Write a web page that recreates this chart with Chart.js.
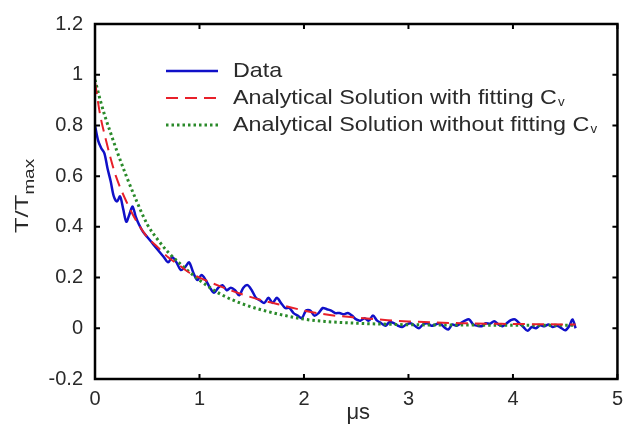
<!DOCTYPE html>
<html>
<head>
<meta charset="utf-8">
<script src="https://cdn.jsdelivr.net/npm/chart.js@4/dist/chart.umd.min.js"></script>
<style>
  html, body { margin: 0; padding: 0; background: #fff; }
  #wrap { width: 631px; height: 430px; }
</style>
</head>
<body>
<div id="wrap"><canvas id="myChart" width="631" height="430"></canvas></div>
<script>
// measured trace (blue)
var dataX = [0.00,0.03,0.06,0.09,0.12,0.15,0.18,0.21,0.24,0.27,0.30,0.33,0.36,0.39,0.42,0.46,0.50,0.54,0.58,0.62,
  0.66,0.70,0.74,0.78,0.82,0.86,0.90,0.94,0.98,1.02,1.06,1.10,1.14,1.18,1.22,1.26,1.30,1.34,1.38,1.42,
  1.46,1.50,1.54,1.58,1.62,1.66,1.70,1.74,1.78,1.82,1.86,1.90,1.94,1.98,2.02,2.06,2.10,2.14,2.18,2.22,
  2.26,2.30,2.34,2.38,2.42,2.46,2.50,2.54,2.58,2.62,2.66,2.70,2.74,2.78,2.82,2.86,2.90,2.94,2.98,3.02,
  3.06,3.10,3.14,3.18,3.22,3.26,3.30,3.34,3.38,3.42,3.46,3.50,3.54,3.58,3.62,3.66,3.70,3.74,3.78,3.82,
  3.86,3.90,3.94,3.98,4.02,4.06,4.10,4.14,4.18,4.22,4.26,4.30,4.34,4.38,4.42,4.46,4.50,4.54,4.57,4.60]
var dataY = [0.80,0.74,0.71,0.69,0.63,0.58,0.52,0.50,0.52,0.47,0.42,0.45,0.48,0.44,0.41,0.38,0.36,0.34,0.32,0.30,
  0.28,0.26,0.28,0.26,0.23,0.24,0.26,0.22,0.19,0.21,0.19,0.16,0.14,0.16,0.17,0.15,0.16,0.15,0.13,0.16,
  0.17,0.15,0.12,0.11,0.10,0.12,0.10,0.12,0.10,0.08,0.08,0.06,0.05,0.04,0.07,0.07,0.05,0.06,0.08,0.075,
  0.07,0.06,0.06,0.055,0.06,0.05,0.035,0.03,0.04,0.03,0.05,0.03,0.02,0.01,0.025,0.02,0.01,0.005,0.015,0.02,
  0.01,0.0,0.015,0.02,0.01,0.015,0.02,0.005,-0.005,0.015,0.01,0.02,0.03,0.035,0.015,0.01,0.008,0.02,0.018,0.028,
  0.015,0.008,0.02,0.032,0.035,0.02,0.005,-0.01,0.005,0.0,0.012,0.008,0.015,0.005,0.01,0.002,-0.008,0.01,0.035,0.0]

// analytical with fitting Cv (red dashed)
var fitX = [0,0.05,0.1,0.15,0.2,0.3,0.4,0.5,0.6,0.7,0.8,0.9,1.0,1.2,1.4,1.6,1.8,2.0,2.2,2.5,2.8,3.0,3.5,4.0,4.6]
var fitY = [0.97,0.84,0.75,0.67,0.60,0.50,0.42,0.36,0.32,0.28,0.25,0.22,0.20,0.165,0.135,0.11,0.09,0.07,0.055,0.042,0.032,0.027,0.02,0.017,0.015]

// analytical without fitting Cv (green dotted)
var noFitX = [0,0.05,0.1,0.15,0.2,0.3,0.4,0.5,0.6,0.7,0.8,1.0,1.2,1.4,1.6,1.8,2.0,2.2,2.5,2.8,3.0,3.5,4.0,4.6]
var noFitY = [0.98,0.90,0.83,0.77,0.71,0.60,0.50,0.41,0.35,0.30,0.26,0.19,0.135,0.098,0.072,0.052,0.036,0.027,0.02,0.016,0.014,0.013,0.012,0.012]

var seriesLabels = ['Data', 'Analytical Solution with fitting C', 'Analytical Solution without fitting C']
var xTicks = [0, 1, 2, 3, 4, 5]
var yTicks = [-0.2, 0, 0.2, 0.4, 0.6, 0.8, 1, 1.2]

function toPoints(xs, ys) {
  return xs.map((x, i) => ({x: x, y: ys[i]}))
}

var FONT = '"Liberation Sans", Arial, sans-serif'
var TXT = '#2a2a2a'

// box, inward ticks, axis titles, legend drawn inside the plot
const framePlugin = {
  id: 'frame',
  afterDraw(chart) {
    const ctx = chart.ctx
    const a = chart.chartArea
    const xs = chart.scales.x, ys = chart.scales.y
    ctx.save()
    ctx.strokeStyle = '#000'
    ctx.lineWidth = 2.5
    ctx.strokeRect(a.left, a.top, a.right - a.left, a.bottom - a.top)
    ctx.lineWidth = 2
    ctx.beginPath()
    xTicks.forEach(v => {
      let p = xs.getPixelForValue(v)
      ctx.moveTo(p, a.bottom); ctx.lineTo(p, a.bottom - 5)
      ctx.moveTo(p, a.top); ctx.lineTo(p, a.top + 5)
    })
    yTicks.forEach(v => {
      let p = ys.getPixelForValue(v)
      ctx.moveTo(a.left, p); ctx.lineTo(a.left + 5, p)
      ctx.moveTo(a.right, p); ctx.lineTo(a.right - 5, p)
    })
    ctx.stroke()

    // x title
    ctx.fillStyle = TXT
    ctx.font = '22px ' + FONT
    ctx.textAlign = 'center'
    ctx.textBaseline = 'middle'
    ctx.fillText('\u03bcs', (a.left + a.right) / 2 + 2, 413)

    // y title with subscript
    ctx.save()
    ctx.translate(28, 196)
    ctx.rotate(-Math.PI / 2)
    ctx.scale(1.35, 1)
    ctx.textAlign = 'left'
    ctx.textBaseline = 'alphabetic'
    ctx.font = '19px ' + FONT
    let w1 = ctx.measureText('T/T').width
    ctx.font = '14px ' + FONT
    let w2 = ctx.measureText('max').width
    let start = -(w1 + w2) / 2
    ctx.font = '19px ' + FONT
    ctx.fillText('T/T', start, 0)
    ctx.font = '14px ' + FONT
    ctx.fillText('max', start + w1, 6)
    ctx.restore()

    // legend
    const rows = [71, 98, 125]
    chart.data.datasets.forEach((ds, i) => {
      let y = rows[i]
      ctx.save()
      ctx.strokeStyle = ds.borderColor
      ctx.lineWidth = ds.borderWidth
      ctx.setLineDash(ds.borderDash || [])
      ctx.beginPath()
      ctx.moveTo(166, y); ctx.lineTo(218, y)
      ctx.stroke()
      ctx.restore()
      ctx.save()
      ctx.translate(233, y)
      ctx.scale(1.11, 1)
      ctx.fillStyle = TXT
      ctx.textAlign = 'left'
      ctx.textBaseline = 'middle'
      ctx.font = '21px ' + FONT
      ctx.fillText(ds.label, 0, 0)
      if (i > 0) {
        let w = ctx.measureText(ds.label).width
        ctx.font = '12px ' + FONT
        ctx.fillText('v', w + 1, 5)
      }
      ctx.restore()
    })
    ctx.restore()
  }
}

new Chart('myChart', {
  type: 'scatter',
  data: {
    datasets: [{
      label: seriesLabels[0],
      data: toPoints(dataX, dataY),
      showLine: true,
      borderColor: '#1010c8',
      borderWidth: 2.5,
      pointRadius: 0,
      tension: 0.3,
      order: 3
    }, {
      label: seriesLabels[1],
      data: toPoints(fitX, fitY),
      showLine: true,
      borderColor: '#e8202a',
      borderWidth: 2,
      borderDash: [12, 7],
      pointRadius: 0,
      cubicInterpolationMode: 'monotone',
      order: 1
    }, {
      label: seriesLabels[2],
      data: toPoints(noFitX, noFitY),
      showLine: true,
      borderColor: '#2a8a2a',
      borderWidth: 3,
      borderDash: [2.5, 3],
      pointRadius: 0,
      cubicInterpolationMode: 'monotone',
      order: 2
    }]
  },
  options: {
    responsive: false,
    animation: false,
    layout: { padding: { top: 15, right: 6, left: 0, bottom: 0 } },
    plugins: {
      legend: { display: false },
      tooltip: { enabled: false }
    },
    scales: {
      x: {
        type: 'linear',
        min: 0, max: 5,
        afterBuildTicks: s => { s.ticks = xTicks.map(v => ({value: v})) },
        afterFit: s => { s.height = 51 },
        grid: { display: false, drawTicks: false },
        border: { display: false },
        ticks: { padding: 8, color: TXT, font: { family: FONT, size: 20 } }
      },
      y: {
        min: -0.2, max: 1.2,
        afterBuildTicks: s => { s.ticks = yTicks.map(v => ({value: v})) },
        afterFit: s => { s.width = 95 },
        grid: { display: false, drawTicks: false },
        border: { display: false },
        ticks: { padding: 12, color: TXT, font: { family: FONT, size: 20 },
          callback: v => String(Math.round(v * 10) / 10) }
      }
    }
  },
  plugins: [framePlugin]
});
</script>
</body>
</html>
